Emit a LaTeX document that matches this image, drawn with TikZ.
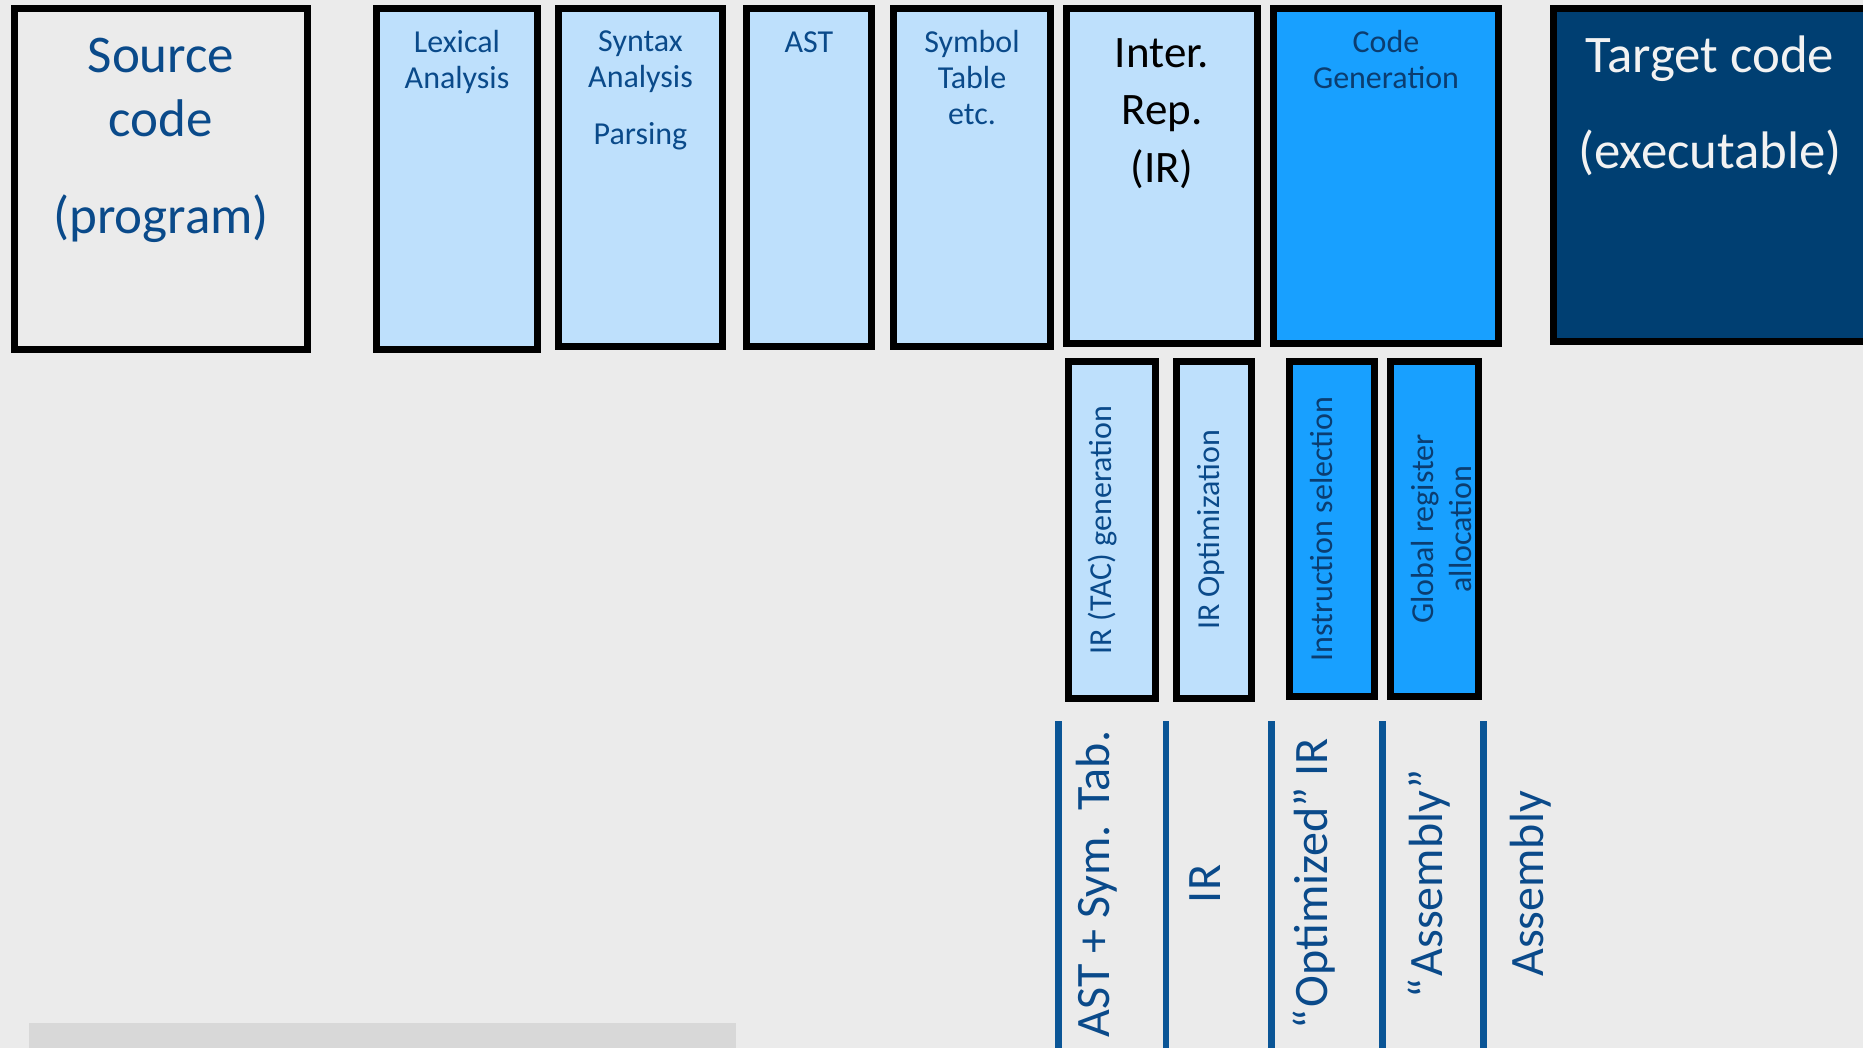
\documentclass[tikz,border=0pt]{standalone}
\usepackage{fontspec}
\setmainfont{Carlito}
\usetikzlibrary{positioning}
\definecolor{cpBg}{HTML}{EBEBEB}
\definecolor{cpLight}{HTML}{BEE0FC}
\definecolor{cpMid}{HTML}{18A0FF}
\definecolor{cpNavy}{HTML}{003F72}
\definecolor{cpInk}{HTML}{0A4A8A}
\definecolor{cpInkDark}{HTML}{0B3D70}
\definecolor{cpRule}{HTML}{0A5596}
\definecolor{cpFoot}{HTML}{D8D8D8}
\definecolor{cpWhite}{HTML}{F2F2F2}
\tikzset{
  cpbox/.style={rectangle, draw=black, line width=3.6pt, inner sep=0pt},
  cpsource/.style={cpbox, fill=cpBg, minimum width=146.4pt, minimum height=170.4pt},
  cpphase/.style={cpbox, fill=cpLight},
  cpgen/.style={cpbox, fill=cpMid},
  cptarget/.style={cpbox, fill=cpNavy, minimum width=156.4pt, minimum height=166.4pt},
  cptitle/.style={align=center, inner sep=0pt, text=cpInk, font=\fontsize{16}{18}\selectfont},
  cpbig/.style={align=center, inner sep=0pt, font=\fontsize{26.5}{32}\selectfont},
  cpvert/.style={rotate=90, align=center, inner sep=0pt, text=cpInk, font=\fontsize{16}{19.2}\selectfont},
  cprule/.style={draw=cpRule, line width=3.4pt},
  cpout/.style={rotate=90, inner sep=0pt, text=cpInk, font=\fontsize{24}{28}\selectfont}
}

\begin{document}
\begin{tikzpicture}[x=0.5pt, y=-0.5pt]

% Page
\useasboundingbox (0,0) rectangle (1863,1048);
\fill[cpBg] (0,0) rectangle (1863,1048);
\fill[cpFoot] (29,1023) rectangle (736,1060);

% Top row
\node[cpsource, anchor=north west] (src) at (11,5) {};
\node[cpphase, minimum width=80.4pt, minimum height=170.4pt, right=31pt of src.north east, anchor=north west] (lex) {};
\node[cpphase, minimum width=81.9pt, minimum height=168.9pt, right=7pt of lex.north east, anchor=north west] (syn) {};
\node[cpphase, minimum width=62.4pt, minimum height=168.9pt, right=8.5pt of syn.north east, anchor=north west] (ast) {};
\node[cpphase, minimum width=78.4pt, minimum height=168.9pt, right=7.5pt of ast.north east, anchor=north west] (sym) {};
\node[cpphase, minimum width=95.4pt, minimum height=167.4pt, right=4.5pt of sym.north east, anchor=north west] (ir) {};
\node[cpgen, minimum width=112.4pt, minimum height=167.4pt, right=4.5pt of ir.north east, anchor=north west] (cg) {};
\node[cptarget, right=24pt of cg.north east, anchor=north west] (tgt) {};

% Titles
\node[cpbig, text=cpInk, below=16.5pt of src.north] (srcT) {Source\\code\\[16.5pt](program)};
\node[cptitle, below=12.5pt of lex.north] (lexT) {Lexical\\Analysis};
\node[cptitle, below=12.5pt of syn.north] (synT) {Syntax\\Analysis\\[10.5pt]Parsing};
\node[cptitle, below=13pt of ast.north] (astT) {AST};
\node[cptitle, below=12.5pt of sym.north] (symT) {Symbol\\Table\\etc.};
\node[cptitle, text=black, font=\fontsize{22.5}{28.7}\selectfont, below=16.5pt of ir.north] (irT) {Inter.\\Rep.\\(IR)};
\node[cptitle, text=cpInkDark, below=12.5pt of cg.north] (cgT) {Code\\Generation};
\node[cpbig, text=cpWhite, font=\fontsize{26.4}{32}\selectfont, below=15.25pt of tgt.north] (tgtT) {Target code\\[16pt](executable)};

% Sub-phases
\node[cpphase, minimum width=43.4pt, minimum height=168.4pt, below right=5.5pt and 1pt of ir.south west] (tac) {};
\node[cpphase, minimum width=37.4pt, minimum height=168.4pt, right=7pt of tac] (opt) {};
\node[cpgen, minimum width=42.4pt, minimum height=167.4pt, below right=5.5pt and 8pt of cg.south west] (isel) {};
\node[cpgen, minimum width=43.9pt, minimum height=167.4pt, right=4.5pt of isel] (greg) {};

\node[cpvert] (tacT) at ([xshift=-4.5pt]tac.center) {IR (TAC) generation};
\node[cpvert] (optT) at ([xshift=-1.5pt]opt.center) {IR Optimization};
\node[cpvert, text=cpInkDark] (iselT) at ([xshift=-5.25pt]isel.center) {Instruction selection};
\node[cpvert, text=cpInkDark] (gregT) at ([xshift=3.5pt]greg.center) {Global register\\allocation};

% Separators and outputs
\foreach \x [count=\i] in {1058.5,1166,1271.5,1382.5,1483.5} {
  \coordinate (sep\i) at (\x,721);
  \coordinate (sep\i b) at (\x,1060);
  \draw[cprule] (sep\i) -- (sep\i b);
}
\node[cpout] (out1) at (1097,884) {AST + Sym. Tab.};
\node[cpout] (out2) at (1205,884) {IR};
\node[cpout] (out3) at (1314,884) {“\kern1pt Optimized” IR};
\node[cpout] (out4) at (1429,884) {“\kern1pt Assembly”};
\node[cpout] (out5) at (1531,884) {Assembly};

\end{tikzpicture}
\end{document}
